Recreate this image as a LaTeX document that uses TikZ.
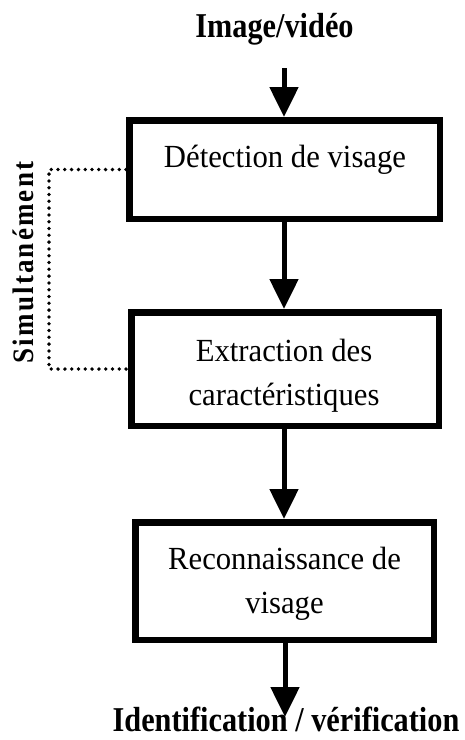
\documentclass[tikz,border=0pt]{standalone}
\usepackage{graphicx}
\usepackage{fontspec}
\setmainfont{Liberation Serif}
\newfontfamily\spacedserif[LetterSpace=8]{Liberation Serif}
\usetikzlibrary{arrows.meta}

% tall, slightly narrow type
\newcommand\tallreg[1]{\scalebox{1}[1.05]{#1}}
\newcommand\tallbold[1]{\scalebox{1}[1.15]{#1}}

\begin{document}
\begin{tikzpicture}[x=1pt,y=-1pt,
  stagebox/.style={draw, line width=6.5pt, inner sep=0pt},
  stagetext/.style={anchor=base, inner sep=0pt, align=center,
    font=\fontsize{30.7}{44}\selectfont},
  endtext/.style={anchor=base, inner sep=0pt,
    font=\bfseries\fontsize{30.3}{36}\selectfont},
  flow/.style={line width=5pt, -{Triangle[width=28pt,length=30pt]}},
  link/.style={line width=3.8pt, line cap=round, dash pattern=on 0pt off 6.8pt}]
\useasboundingbox (0,0) rectangle (465,740);

% processing stages
\node[stagebox, minimum width=310.5pt, minimum height=98.5pt] (det) at (284.5,169.5) {};
\node[stagebox, minimum width=307.5pt, minimum height=113.5pt] (ext) at (285,369) {};
\node[stagebox, minimum width=298.5pt, minimum height=117.5pt] (rec) at (284.5,581) {};

\node[stagetext] (dettext) at (285,167) {\tallreg{Détection de visage}};
\node[stagetext] (exttext) at (284,405) {\tallreg{Extraction des}\\\tallreg{caractéristiques}};
\node[stagetext] (rectext) at (284.5,613) {\tallreg{Reconnaissance de}\\\tallreg{visage}};

% input and output labels
\node[endtext] (input) at (274.5,37) {\tallbold{Image/vidéo}};
\node[endtext] (output) at (286,731) {\tallbold{Identification / vérification}};

% side note on the simultaneous stages
\node[rotate=90, anchor=base, inner sep=0pt,
  font=\spacedserif\bfseries\fontsize{27}{30}\selectfont] (simul) at (33,262.5)
  {\scalebox{1}[1.1]{Simultanément}};

% main flow
\coordinate (src) at (284,68);
\coordinate (sink) at (285,717);
\draw[flow] (src) -- (src |- det.north);
\draw[flow] (det.south -| src) -- (src |- ext.north);
\draw[flow] (ext.south -| src) -- (src |- rec.north);
\draw[flow] (rec.south -| sink) -- (sink);

% dotted bracket joining the first two stages
\draw[link] (det.west) -- ++(-77,0) |- (ext.west);
\end{tikzpicture}
\end{document}
